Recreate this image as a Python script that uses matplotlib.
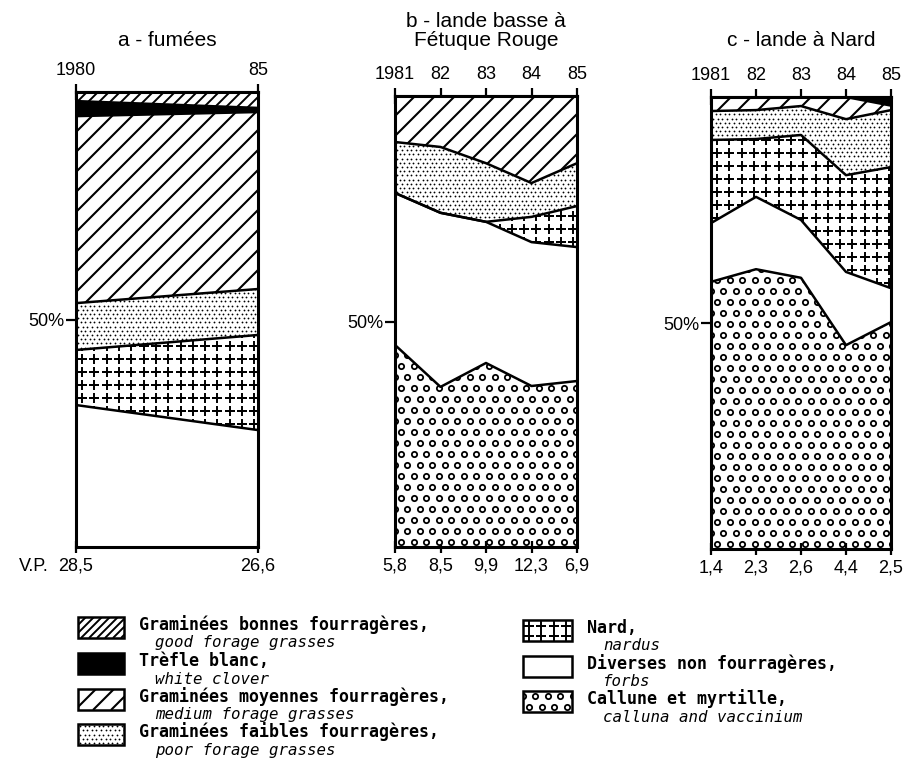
import matplotlib
matplotlib.use('Agg')
import matplotlib.pyplot as plt
import numpy as np
from matplotlib.transforms import Affine2D
from matplotlib.collections import LineCollection
from matplotlib.patches import Rectangle

W, H = 904, 773

# layers from bottom to top, shares in % of cover
layer_names = ['callune', 'diverses', 'nard', 'faibles', 'moyennes', 'trefle', 'bonnes']

years_a = [1980, 1985]
callune_a = [0.0, 0.0]
diverses_a = [31.2, 25.7]
nard_a = [12.1, 20.9]
faibles_a = [10.3, 10.1]
moyennes_a = [41.1, 38.9]
trefle_a = [3.3, 0.9]
bonnes_a = [2.0, 3.5]
top_a = ['1980', '85']
vp_a = ['28,5', '26,6']

years_b = [1981, 1982, 1983, 1984, 1985]
callune_b = [44.8, 35.5, 40.8, 35.7, 36.8]
diverses_b = [33.7, 38.6, 31.3, 31.9, 29.7]
nard_b = [0.0, 0.0, 0.0, 5.6, 9.1]
faibles_b = [11.3, 14.6, 13.0, 7.5, 9.5]
moyennes_b = [10.2, 11.3, 14.9, 19.3, 14.9]
trefle_b = [0.0, 0.0, 0.0, 0.0, 0.0]
bonnes_b = [0.0, 0.0, 0.0, 0.0, 0.0]
top_b = ['1981', '82', '83', '84', '85']
vp_b = ['5,8', '8,5', '9,9', '12,3', '6,9']

years_c = [1981, 1982, 1983, 1984, 1985]
callune_c = [59.1, 61.9, 60.0, 45.1, 50.2]
diverses_c = [13.0, 16.0, 12.8, 16.2, 7.5]
nard_c = [18.4, 12.8, 18.8, 21.4, 26.8]
faibles_c = [6.4, 6.4, 6.4, 12.4, 12.6]
moyennes_c = [3.1, 2.9, 2.0, 4.9, 1.0]
trefle_c = [0.0, 0.0, 0.0, 0.0, 1.9]
bonnes_c = [0.0, 0.0, 0.0, 0.0, 0.0]
top_c = ['1981', '82', '83', '84', '85']
vp_c = ['1,4', '2,3', '2,6', '4,4', '2,5']

titles = ['a - fumées', 'b - lande basse à\nFétuque Rouge', 'c - lande à Nard']

legend_left = [('bonnes', 'Graminées bonnes fourragères,', 'good forage grasses'),
               ('trefle', 'Trèfle blanc,', 'white clover'),
               ('moyennes', 'Graminées moyennes fourragères,', 'medium forage grasses'),
               ('faibles', 'Graminées faibles fourragères,', 'poor forage grasses')]
legend_right = [('nard', 'Nard,', 'nardus'),
                ('diverses', 'Diverses non fourragères,', 'forbs'),
                ('callune', 'Callune et myrtille,', 'calluna and vaccinium')]

plt.rcParams['font.family'] = 'Liberation Sans'
fig = plt.figure(figsize=(W / 100, H / 100), dpi=100)
PX = Affine2D().scale(1 / W, 1 / H) + fig.transFigure   # figure pixels, y up


def diag(ax, clip, bb, step, lw):
    x0, y0, x1, y1 = bb
    h = y1 - y0
    segs = [[(c, y0), (c + h, y1)] for c in np.arange(x0 - h, x1 + step, step)]
    lc = LineCollection(segs, colors='k', linewidths=lw, transform=PX, zorder=2)
    ax.add_collection(lc, autolim=False)
    lc.set_clip_path(*clip)


def marks(ax, clip, bb, dx, dy, stagger, **kw):
    x0, y0, x1, y1 = bb
    xs, ys = [], []
    for i, y in enumerate(np.arange(y0 + dy / 2, y1 + dy, dy)):
        off = dx / 2 if (stagger and i % 2) else 0
        for x in np.arange(x0 + dx / 2 + off - dx, x1 + dx, dx):
            xs.append(x)
            ys.append(y)
    ln, = ax.plot(xs, ys, ls='none', transform=PX, zorder=2, **kw)
    ln.set_clip_path(*clip)


def texture(ax, kind, clip, bb, small=False):
    if kind == 'bonnes':
        diag(ax, clip, bb, 8 if small else 11, 1.4)
    elif kind == 'moyennes':
        diag(ax, clip, bb, 18 if small else 20, 1.5)
    elif kind == 'faibles':
        marks(ax, clip, bb, 4.6, 4.2, True, marker='o', ms=1.3, mew=0, color='k')
    elif kind == 'nard':
        marks(ax, clip, bb, 12.3, 10 if small else 13, False, marker='+', ms=6.5, mew=1.4, color='k')
    elif kind == 'callune':
        marks(ax, clip, bb, 12.5, 11, True, marker='o', ms=3.8, mew=1.3, mfc='white', mec='k')


def panel(box, years, shares, tops, bottoms, title, title_y):
    left, top, right, bottom = box  # image pixels, y down
    ax = fig.add_axes([left / W, 1 - bottom / H, (right - left) / W, (bottom - top) / H])
    bb = (left, H - bottom, right, H - top)
    lower = np.zeros(len(years))
    for name, vals in zip(layer_names, shares):
        upper = lower + np.array(vals)
        poly = ax.fill_between(years, lower, upper, facecolor='k' if name == 'trefle' else 'white',
                               lw=0, zorder=1)
        texture(ax, name, (poly.get_paths()[0], ax.transData), bb)
        ax.plot(years, upper, color='k', lw=1.8, zorder=4)
        lower = upper
    ax.set_xlim(years[0], years[-1])
    ax.set_ylim(0, 100)
    for s in ax.spines.values():
        s.set_linewidth(2.2)
        s.set_zorder(5)
    ax.set_xticks(years, labels=bottoms)
    ax.tick_params(axis='x', direction='inout', length=9, width=1.6, pad=3, labelsize=13)
    ax.set_yticks([50], labels=['50%'])
    ax.tick_params(axis='y', direction='out', length=7, width=1.6, pad=1, labelsize=13)
    sec = ax.secondary_xaxis('top')
    sec.set_xticks(years, labels=tops)
    sec.tick_params(direction='inout', length=12, width=1.6, pad=3, labelsize=13)
    sec.spines['top'].set_linewidth(2.2)
    fig.text((left + right) / 2 / W, 1 - title_y / H, title, ha='center', va='center',
             fontsize=15, linespacing=1.0)
    return ax


ax_a = panel((76, 92, 258, 547), years_a,
             [callune_a, diverses_a, nard_a, faibles_a, moyennes_a, trefle_a, bonnes_a],
             top_a, vp_a, titles[0], 40)
ax_a.text(-0.15, -0.024, 'V.P.', transform=ax_a.transAxes, ha='right', va='top', fontsize=13)
panel((395, 96, 577, 547), years_b,
      [callune_b, diverses_b, nard_b, faibles_b, moyennes_b, trefle_b, bonnes_b],
      top_b, vp_b, titles[1], 31)
panel((711, 97, 891, 549), years_c,
      [callune_c, diverses_c, nard_c, faibles_c, moyennes_c, trefle_c, bonnes_c],
      top_c, vp_c, titles[2], 40)

# legend drawn in figure pixels
lax = fig.add_axes([0, 0, 1, 1])
lax.axis('off')


def legend_column(entries, bx, bw, box_tops, tx):
    for (kind, main, sub), yt in zip(entries, box_tops):
        bh = 21
        y0 = H - yt - bh
        bb = (bx, y0, bx + bw, y0 + bh)
        rect = Rectangle((bx, y0), bw, bh, transform=PX, facecolor='k' if kind == 'trefle' else 'white',
                         edgecolor='none', zorder=1)
        lax.add_patch(rect)
        texture(lax, kind, (rect.get_path(), rect.get_transform()), bb, small=True)
        lax.add_patch(Rectangle((bx, y0), bw, bh, transform=PX, facecolor='none',
                                edgecolor='k', lw=1.8, zorder=5))
        lax.text(tx, H - (yt + 8), main, transform=PX, family='DejaVu Sans Mono',
                 fontsize=12, weight='bold', ha='left', va='center')
        lax.text(tx + 16, H - (yt + 26), sub, transform=PX, family='DejaVu Sans Mono',
                 style='italic', fontsize=11.3, ha='left', va='center')


legend_column(legend_left, 78, 46, [617, 653, 689, 724], 139)
legend_column(legend_right, 523, 49, [620, 656, 691], 587)
lax.set_xlim(0, 1)
lax.set_ylim(0, 1)

fig.savefig('out.png', dpi=100)
